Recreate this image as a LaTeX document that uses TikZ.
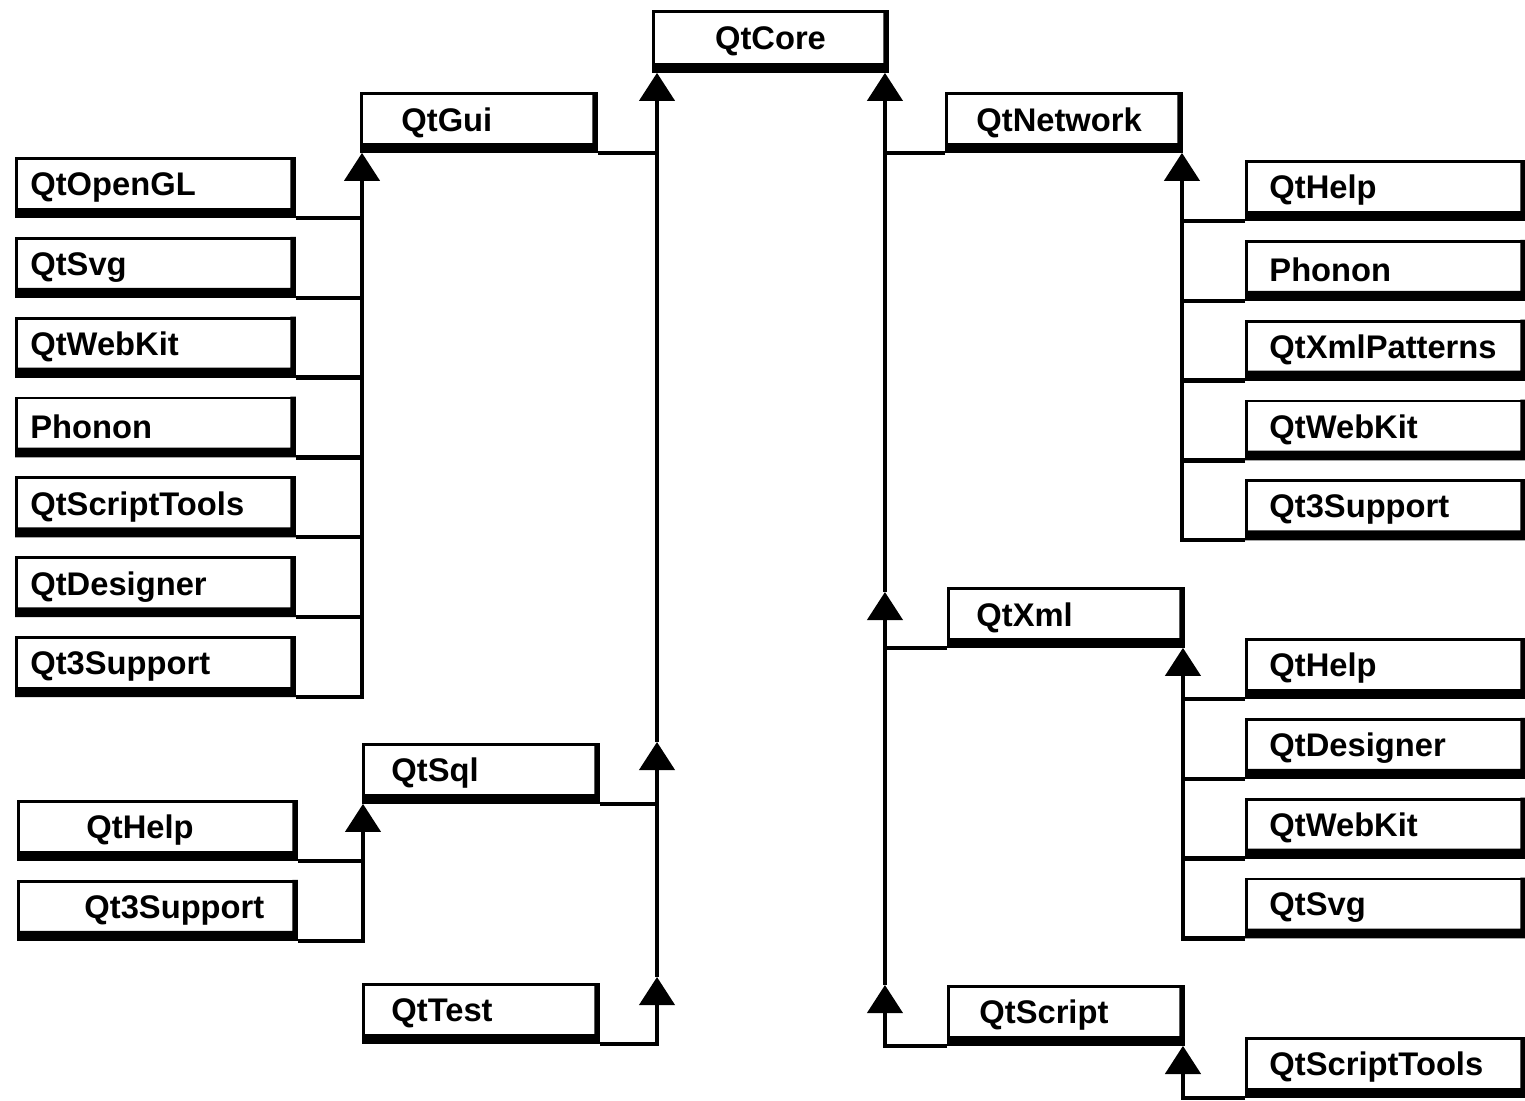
\documentclass[tikz,border=0pt]{standalone}
\usepackage{fontspec}
\setmainfont{Liberation Sans}
\usepackage{tikz}
\usetikzlibrary{arrows.meta, positioning}

\newcommand\modfont{\fontsize{9.3}{11}\selectfont\bfseries}

\begin{document}
\begin{tikzpicture}[x=0.01cm, y=-0.01cm,
    modbox/.style={draw, line width=0.8pt, minimum height=0.58cm, inner sep=0pt,
                   anchor=north west, align=left, font=\modfont,
                   execute at begin node=\hspace*{#1}},
    modbox/.default=0.14cm,
    wide/.style={text width=2.78cm},
    short/.style={text width=2.35cm},
    link/.style={line width=1.2pt},
    arr/.style={link, -{Triangle[length=8pt, width=10pt]}}]
  \useasboundingbox (0,0) rectangle (1525,1100);

  % top and the six second level modules
  \node[modbox=0pt, text width=2.34cm, align=center, minimum height=0.6cm] (core) at (652,10) {QtCore};
  \node[modbox=0.40cm, short] (gui) at (360,92) {QtGui};
  \node[modbox=0.28cm, short] (sql) at (362,743) {QtSql};
  \node[modbox=0.28cm, short] (test) at (362,983) {QtTest};
  \node[modbox=0.30cm, short] (network) at (945,92) {QtNetwork};
  \node[modbox=0.28cm, short] (xml) at (947,587) {QtXml};
  \node[modbox=0.31cm, short] (script) at (947,985) {QtScript};

  % left column (QtGui)
  \node[modbox, wide] (opengl) at (15,157) {QtOpenGL};
  \node[modbox, wide, below=0.19cm of opengl] (svgL) {QtSvg};
  \node[modbox, wide, below=0.19cm of svgL] (webkitL) {QtWebKit};
  \node[modbox, wide, below=0.19cm of webkitL] (phononL) {Phonon};
  \node[modbox, wide, below=0.19cm of phononL] (scripttoolsL) {QtScriptTools};
  \node[modbox, wide, below=0.19cm of scripttoolsL] (designerL) {QtDesigner};
  \node[modbox, wide, below=0.19cm of designerL] (support3L) {Qt3Support};

  % lower left (QtSql)
  \node[modbox=0.68cm, wide] (helpS) at (17,800) {QtHelp};
  \node[modbox=0.66cm, wide, below=0.19cm of helpS] (support3S) {Qt3Support};

  % right column (QtNetwork)
  \node[modbox=0.23cm, wide] (helpN) at (1245,160) {QtHelp};
  \node[modbox=0.23cm, wide, below=0.19cm of helpN] (phononN) {Phonon};
  \node[modbox=0.23cm, wide, below=0.19cm of phononN] (xmlpatterns) {QtXmlPatterns};
  \node[modbox=0.23cm, wide, below=0.19cm of xmlpatterns] (webkitN) {QtWebKit};
  \node[modbox=0.23cm, wide, below=0.19cm of webkitN] (support3N) {Qt3Support};

  % right column (QtXml)
  \node[modbox=0.23cm, wide] (helpX) at (1245,638) {QtHelp};
  \node[modbox=0.23cm, wide, below=0.19cm of helpX] (designerX) {QtDesigner};
  \node[modbox=0.23cm, wide, below=0.19cm of designerX] (webkitX) {QtWebKit};
  \node[modbox=0.23cm, wide, below=0.19cm of webkitX] (svgX) {QtSvg};

  % QtScript
  \node[modbox=0.23cm, wide] (scripttools) at (1245,1037) {QtScriptTools};

  % heavy bottom and right edges
  \foreach \n in {core, gui, sql, test, network, xml, script, opengl, svgL,
                  webkitL, phononL, scripttoolsL, designerL, support3L, helpS,
                  support3S, helpN, phononN, xmlpatterns, webkitN, support3N,
                  helpX, designerX, webkitX, svgX, scripttools}
    \fill (\n.south west) -- (\n.south east) -- (\n.north east)
      -- ([xshift=-1.6pt]\n.north east) -- ([xshift=-1.6pt, yshift=2.8pt]\n.south east)
      -- ([yshift=2.8pt]\n.south west) -- cycle;

  % trunks under QtCore
  \coordinate (coreL) at ([xshift=0.05cm]core.south west);
  \coordinate (coreR) at ([xshift=-0.04cm]core.south east);
  \coordinate (jTest) at (coreL |- 0,977);
  \coordinate (jSql) at (coreL |- 0,742);
  \coordinate (jScript) at (coreR |- 0,985);
  \coordinate (jXml) at (coreR |- 0,592);

  \draw[arr] (test.south east) -| (jTest);
  \draw[arr] (jTest) -- (jSql);
  \draw[link] (sql.south east) -- (sql.south east -| coreL);
  \draw[arr] (jSql) -- (coreL);
  \draw[link] (gui.south east) -- (gui.south east -| coreL);

  \draw[arr] (script.south west) -| (jScript);
  \draw[arr] (jScript) -- (jXml);
  \draw[link] (xml.south west) -- (xml.south west -| coreR);
  \draw[arr] (jXml) -- (coreR);
  \draw[link] (network.south west) -- (network.south west -| coreR);

  % vertical lines of the groups
  \coordinate (guiV) at ([xshift=0.02cm]gui.south west);
  \coordinate (sqlV) at ([xshift=0.01cm]sql.south west);
  \coordinate (networkV) at ([xshift=-0.01cm]network.south east);
  \coordinate (xmlV) at ([xshift=-0.02cm]xml.south east);
  \coordinate (scriptV) at ([xshift=-0.02cm]script.south east);

  % QtGui group
  \draw[arr] (support3L.south east) -| (guiV);
  \foreach \n in {opengl, svgL, webkitL, phononL, scripttoolsL, designerL}
    \draw[link] (\n.south east) -- (\n.south east -| guiV);

  % QtSql group
  \draw[arr] (support3S.south east) -| (sqlV);
  \draw[link] (helpS.south east) -- (helpS.south east -| sqlV);

  % QtNetwork group
  \draw[arr] (support3N.south west) -| (networkV);
  \foreach \n in {helpN, phononN, xmlpatterns, webkitN}
    \draw[link] (\n.south west) -- (\n.south west -| networkV);

  % QtXml group
  \draw[arr] (svgX.south west) -| (xmlV);
  \foreach \n in {helpX, designerX, webkitX}
    \draw[link] (\n.south west) -- (\n.south west -| xmlV);

  % QtScript group
  \draw[arr] (scripttools.south west) -| (scriptV);
\end{tikzpicture}
\end{document}
